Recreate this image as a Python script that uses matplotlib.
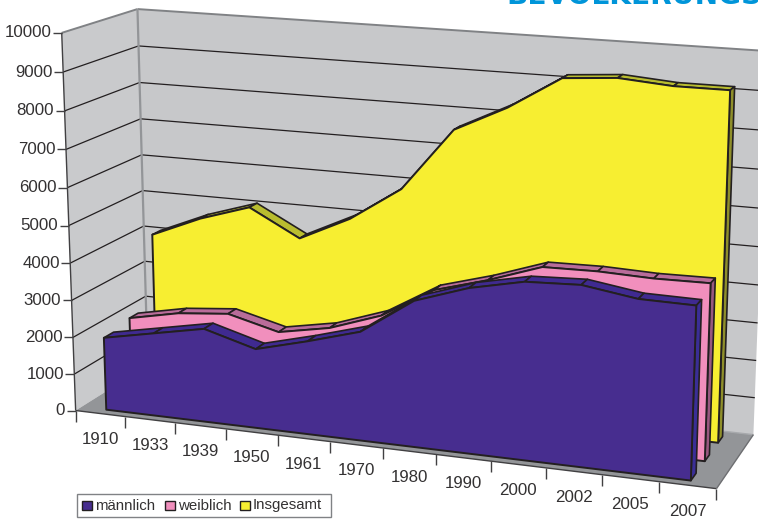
import numpy as np
import matplotlib
matplotlib.use("Agg")
import matplotlib.pyplot as plt
from matplotlib.patches import Polygon, Rectangle

plt.rcParams["font.family"] = ["Liberation Sans", "DejaVu Sans"]

years = ["1910", "1933", "1939", "1950", "1961", "1970", "1980", "1990", "2000", "2002", "2005", "2007"]
maennlich = [1970, 2240, 2510, 2120, 2480, 2880, 3830, 4300, 4600, 4660, 4450, 4430]
weiblich = [2100, 2380, 2510, 2160, 2420, 2900, 3720, 4120, 4600, 4625, 4580, 4600]
insgesamt = [4040, 4615, 5050, 4330, 4990, 5910, 7590, 8270, 9130, 9235, 9130, 9130]
value_ticks = [0, 1000, 2000, 3000, 4000, 5000, 6000, 7000, 8000, 9000, 10000]
y_max = 10000

INK = "#231f20"
TEXT = "#333132"

# camera fit: (category pos, value/ymax, depth) -> pixel position
anchors = [
    ((0, 0, 0), (76, 408.5)),
    ((0, 1, 0), (61, 34)),
    ((1, 0, 0), (716, 491)),
    ((0, 0, 1), (150, 362)),
    ((0, 1, 1), (137.7, 8.7)),
    ((1, 0, 1), (753, 433)),
    ((1, 1, 1), (768, 50)),
    ((0, 0.5, 0), (68.5, 225)),
    ((0, 0.5, 1), (143.7, 189)),
    ((0.0417, 0, 0.78), (152.5, 387)),
    ((0.958, 0, 0.78), (717, 443)),
    ((0.958, 0.92, 0.78), (730, 89)),
    ((0.0417, 0, 0.08), (107, 407)),
    ((0.958, 0, 0.08), (692, 481)),
    ((0.958, 0, 0.40), (704, 460.7)),
]


def fit_camera(pairs):
    rows, rhs = [], []
    for (u, v, w), (px, py) in pairs:
        rows.append([u, v, w, 1, 0, 0, 0, 0, -px * u, -px * v, -px * w])
        rhs.append(px)
        rows.append([0, 0, 0, 0, u, v, w, 1, -py * u, -py * v, -py * w])
        rhs.append(py)
    sol = np.linalg.lstsq(np.array(rows, float), np.array(rhs, float), rcond=None)[0]
    return np.append(sol, 1).reshape(3, 4)


cam = fit_camera(anchors)


def project(cat, value, depth):
    p = cam @ np.array([cat / len(years), value / y_max, depth, 1.0])
    return p[0] / p[2], p[1] / p[2]


fig = plt.figure(figsize=(7.58, 5.19), dpi=100)
ax = fig.add_axes([0, 0, 1, 1])
ax.set_xlim(0, 758)
ax.set_ylim(519, 0)
ax.axis("off")


def quad(pts, color, edge="none", lw=0):
    ax.add_patch(Polygon(pts, closed=True, facecolor=color, edgecolor=edge, linewidth=lw, joinstyle="round"))


def line(a, b, color=INK, lw=0.9):
    ax.plot([a[0], b[0]], [a[1], b[1]], color=color, lw=lw, solid_capstyle="butt", zorder=1)


n = len(years)
# walls and floor
quad([project(0, 0, 0), project(0, y_max, 0), project(0, y_max, 1), project(0, 0, 1)], "#c9cacc")
quad([project(0, 0, 1), project(0, y_max, 1), project(n, y_max, 1), project(n, 0, 1)], "#c7c8ca")
quad([project(0, 0, 0), project(0, 0, 1), project(n, 0, 1), project(n, 0, 0)], "#939598")

for t in value_ticks[1:-1]:
    line(project(0, t, 0), project(0, t, 1))
    line(project(0, t, 1), project(n, t, 1))
line(project(0, y_max, 0), project(0, y_max, 1), "#808285", 1.4)
line(project(0, y_max, 1), project(n, y_max, 1), "#808285", 1.4)
line(project(0, 0, 1), project(0, y_max, 1), "#939598", 1.6)
line(project(0, 0, 1), project(n, 0, 1), "#a7a9ac", 1.0)
line(project(0, 0, 0), project(0, y_max, 0), "#414042", 1.0)
line(project(0, 0, 0), project(n, 0, 0), "#414042", 1.0)
line(project(n, 0, 0), project(n, 0, 1), "#6d6e71", 1.0)

# value axis
for t in value_ticks:
    x, y = project(0, t, 0)
    line((x - 9, y), (x, y), "#414042", 1.0)
    ax.text(x - 10.5, y, str(t), ha="right", va="center", fontsize=12.2, color=TEXT)

# category axis
for i in range(n + 1):
    x, y = project(i, 0, 0)
    line((x, y), (x, y + 11), "#414042", 1.0)
for i, year in enumerate(years):
    x, y = project(i + 0.5, 0, 0)
    ax.text(x, y + 26, year, ha="center", va="center", fontsize=12.2, color=TEXT)


def draw_area(values, front, back, face, top, side):
    xs = np.arange(n) + 0.5
    # top facets from left to right
    for i in range(n - 1):
        quad([project(xs[i], values[i], front), project(xs[i], values[i], back),
              project(xs[i + 1], values[i + 1], back), project(xs[i + 1], values[i + 1], front)],
             top, INK, 1.2)
    # right hand side
    quad([project(xs[-1], values[-1], front), project(xs[-1], values[-1], back),
          project(xs[-1], 0, back), project(xs[-1], 0, front)], side, INK, 1.2)
    outline = [project(xs[i], values[i], front) for i in range(n)]
    outline += [project(xs[-1], 0, front), project(xs[0], 0, front)]
    quad(outline, face, INK, 1.4)


draw_area(insgesamt, 0.78, 0.90, "#f7ee31", "#b9bd2f", "#8f8f2a")
draw_area(weiblich, 0.43, 0.55, "#f18fbd", "#b96c9a", "#98587f")
draw_area(maennlich, 0.08, 0.21, "#472d8f", "#3f2a90", "#3a2e96")

# legend
ax.add_patch(Rectangle((77, 493.5), 254, 23.5, facecolor="white", edgecolor="#808285", linewidth=1.0))
legend_items = [("männlich", 82, "#472d8f"), ("weiblich", 165, "#f18fbd"), ("Insgesamt", 240, "#f7ee31")]
for label, x, color in legend_items:
    ax.add_patch(Rectangle((x, 501), 10, 9, facecolor=color, edgecolor=INK, linewidth=1.0))
    ax.text(x + 13, 505.5, label, ha="left", va="center", fontsize=10.8, color=TEXT)

# cut off headline at the upper edge
ax.text(506, 4.5, "BEVÖLKERUNGS", ha="left", va="baseline", fontsize=20.2, color="#0095d9",
        fontweight="bold", family="DejaVu Sans")

fig.savefig("out.png", dpi=100)
